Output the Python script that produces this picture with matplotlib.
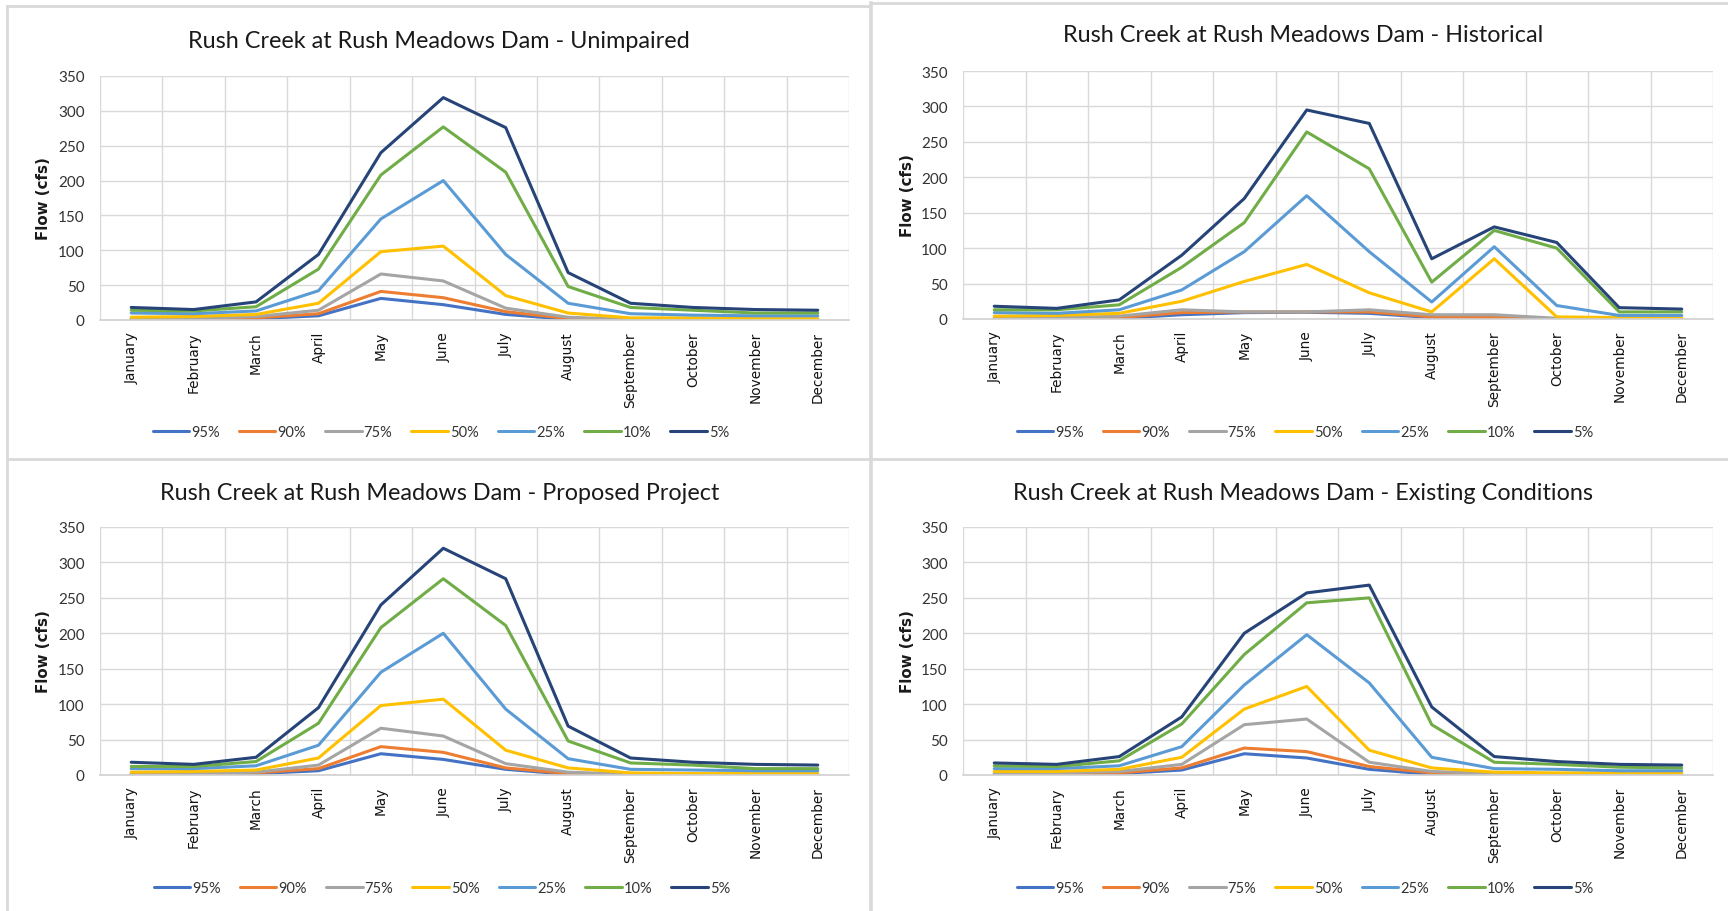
import numpy as np
import matplotlib
matplotlib.use("Agg")
import matplotlib.pyplot as plt
from matplotlib.lines import Line2D

months = ["January", "February", "March", "April", "May", "June", "July",
          "August", "September", "October", "November", "December"]
percentiles = ["95%", "90%", "75%", "50%", "25%", "10%", "5%"]
colors = ["#4472C4", "#ED7D31", "#A5A5A5", "#FFC000", "#5B9BD5", "#70AD47", "#264478"]

# rows follow percentiles: 95, 90, 75, 50, 25, 10, 5
unimpaired = [
    [0.5, 0.5, 2, 6, 31, 22, 8, 1, 0.3, 0.3, 0.3, 0.3],
    [1, 1, 3, 9, 41, 32, 12, 2, 0.5, 0.5, 0.5, 0.5],
    [2, 2, 5, 14, 66, 56, 17, 4, 1, 1, 1, 1],
    [4, 5, 8, 24, 98, 106, 35, 10, 3, 3, 2, 2],
    [10, 9, 13, 42, 145, 200, 94, 24, 9, 7, 6, 6],
    [14, 13, 19, 73, 208, 277, 212, 48, 18, 14, 10, 10],
    [18, 15, 26, 94, 240, 319, 276, 68, 24, 18, 15, 14],
]
historical = [
    [0.3, 0.5, 1, 6, 9, 9.5, 8, 2, 1, 0.3, 0.3, 0.3],
    [0.5, 1, 2, 9, 10, 10, 10, 3, 2, 0.5, 0.5, 0.5],
    [1, 2, 4, 13, 10, 10, 13, 6, 6, 1, 1, 1],
    [4, 5, 8, 25, 53, 77, 37, 10, 85, 3, 2, 2],
    [9, 8, 13, 41, 95, 174, 95, 24, 102, 19, 5, 5],
    [13, 13, 20, 73, 136, 264, 212, 52, 125, 100, 10, 10],
    [18, 15, 27, 90, 170, 295, 276, 85, 130, 108, 16, 14],
]
proposed = [
    [0.5, 0.5, 2, 6, 30, 22, 8, 1, 0.3, 0.3, 0.3, 0.3],
    [1, 1, 3, 9, 40, 32, 10, 2, 0.5, 0.5, 0.5, 0.5],
    [2, 2, 4, 14, 66, 55, 16, 4, 1, 1, 1, 1],
    [4, 5, 7, 24, 98, 107, 35, 10, 3, 2, 2, 2],
    [9, 9, 13, 42, 145, 200, 93, 23, 8, 7, 6, 6],
    [12, 12, 19, 73, 208, 277, 211, 48, 17, 14, 9, 9],
    [18, 15, 25, 95, 240, 320, 277, 69, 24, 18, 15, 14],
]
existing = [
    [0.5, 0.5, 2, 7, 30, 24, 8, 1, 0.5, 0.3, 0.3, 0.3],
    [1, 1, 3, 10, 38, 33, 12, 3, 1, 0.5, 0.5, 0.5],
    [2, 3, 5, 15, 71, 79, 18, 5, 2, 1, 1, 1],
    [5, 5, 8, 25, 93, 125, 35, 10, 4, 3, 3, 3],
    [9, 9, 13, 40, 127, 198, 130, 25, 9, 8, 6, 6],
    [13, 12, 20, 72, 170, 243, 250, 71, 18, 15, 11, 10],
    [17, 15, 26, 82, 200, 257, 268, 96, 26, 19, 15, 14],
]

W, H = 1728, 912
fig = plt.figure(figsize=(W / 100, H / 100), dpi=100)


def box(l, t, r, b):
    return [l / W, 1 - b / H, (r - l) / W, (b - t) / H]


def fline(x0, y0, x1, y1, lw=2.0):
    fig.add_artist(Line2D([x0 / W, x1 / W], [1 - y0 / H, 1 - y1 / H],
                          color="#d9d9d9", lw=lw, transform=fig.transFigure))


# panel frames of the four pasted charts
fline(7, 7, 870, 7)
fline(7, 7, 7, 912)
fline(872, 4, 1728, 4)
fline(871, 4, 871, 912, lw=2.6)
fline(7, 460, 1728, 460)

panels = [
    ("Rush Creek at Rush Meadows Dam - Unimpaired", unimpaired,
     (100, 77, 849, 321), 439, 41, 433, 43),
    ("Rush Creek at Rush Meadows Dam - Historical", historical,
     (963, 72, 1713, 320), 1303, 36, 433, 908),
    ("Rush Creek at Rush Meadows Dam - Proposed Project", proposed,
     (100, 528, 849, 776), 440, 493, 889, 44),
    ("Rush Creek at Rush Meadows Dam - Existing Conditions", existing,
     (963, 528, 1713, 776), 1303, 493, 889, 908),
]

x = np.arange(len(months))
for title, flows, rect, tx, ty, ly, yx in panels:
    ax = fig.add_axes(box(*rect))
    for name, col, vals in zip(percentiles, colors, flows):
        ax.plot(x, vals, color=col, lw=2.2, label=name,
                solid_joinstyle="round", solid_capstyle="round")
    ax.set_xlim(-0.5, 11.5)
    ax.set_ylim(0, 350)
    ax.set_yticks(np.arange(0, 351, 50))
    ax.set_xticks(x)
    ax.set_xticks(np.arange(-0.5, 12, 1), minor=True)
    ax.grid(True, which="minor", axis="x", color="#d9d9d9", lw=1.0)
    ax.grid(True, which="major", axis="y", color="#d9d9d9", lw=1.0)
    ax.set_axisbelow(True)
    for s in ["top", "right", "left"]:
        ax.spines[s].set_visible(False)
    ax.spines["bottom"].set_color("#d0d0d0")
    ax.spines["bottom"].set_linewidth(1.2)
    ax.tick_params(which="both", length=0)
    ax.tick_params(axis="y", pad=11, labelsize=11, labelcolor="#333333")
    ax.tick_params(axis="x", pad=8)
    for lab in ax.get_yticklabels():
        lab.set_family("Lato")
    ax.set_xticklabels(months, rotation=90, fontsize=9.8, family="DejaVu Sans",
                       color="#111111", va="top", ha="center")
    fig.text(yx / W, 1 - (rect[1] + rect[3]) / 2 / H, "Flow (cfs)", rotation=90,
             ha="center", va="center", fontsize=10.8, fontweight="semibold",
             family="DejaVu Sans", color="#1a1a1a")
    fig.text(tx / W, 1 - ty / H, title, ha="center", va="center",
             fontsize=16.8, family="Lato", color="#1a1a1a")
    fig.legend(*ax.get_legend_handles_labels(), loc="center",
               bbox_to_anchor=(tx / W + 2 / W, 1 - ly / H), ncol=7, frameon=False,
               prop={"family": "Lato", "size": 10.5}, labelcolor="#333333",
               handlelength=2.5, handletextpad=0.15, columnspacing=1.3)

plt.savefig("out.png", dpi=100)
